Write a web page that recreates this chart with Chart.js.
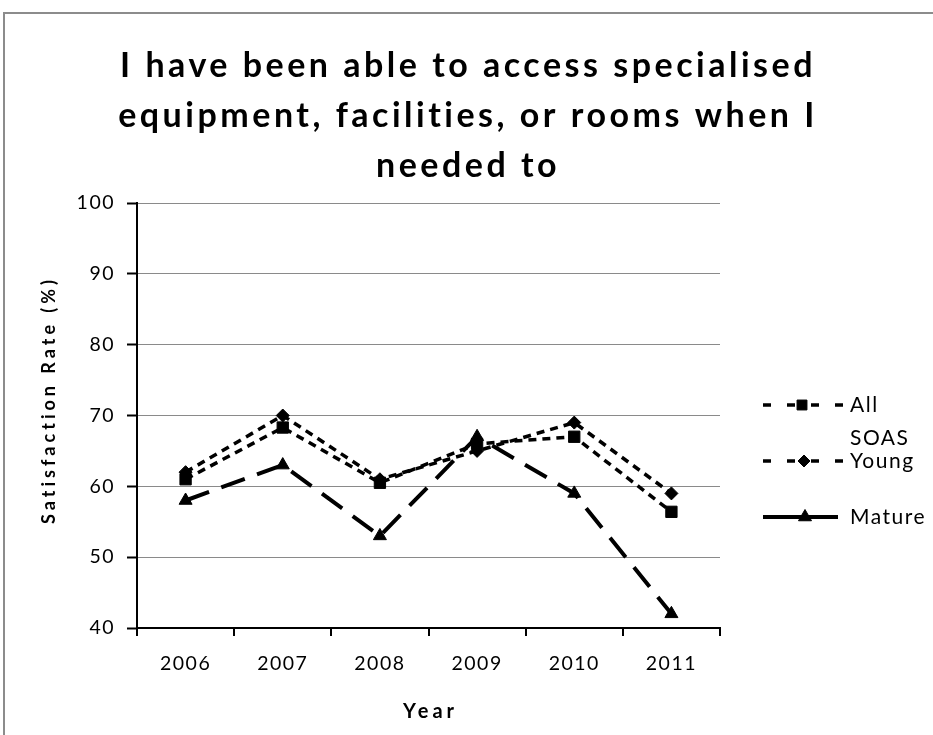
<!DOCTYPE html>
<html>
<head>
<meta charset="utf-8">
<script src="https://cdn.jsdelivr.net/npm/chart.js@4/dist/chart.umd.min.js"></script>
<style>
  html, body { margin: 0; padding: 0; background: #fff; overflow: hidden; }
  #wrap { position: absolute; left: 0; top: 0; width: 933px; height: 735px; }
  #frame { position: absolute; left: 3px; top: 12px; width: 950px; height: 760px;
           border: 2px solid #8c8c8c; box-sizing: border-box; pointer-events: none; }
</style>
</head>
<body>
<div id="wrap">
  <canvas id="c" width="933" height="735"></canvas>
  <div id="frame"></div>
</div>
<script>
// Survey years and satisfaction rates (%) per student group
const years = ['2006', '2007', '2008', '2009', '2010', '2011'];
const allStudents = [61, 68.3, 60.5, 66, 67, 56.4];
const youngStudents = [62, 70, 61, 65, 69, 59];
const matureStudents = [58, 63, 53, 67, 59, 42];
const yTicks = [40, 50, 60, 70, 80, 90, 100];

const titleLines = [
  'I have been able to access specialised',
  'equipment, facilities, or rooms when I',
  'needed to'
];
const yAxisTitle = 'Satisfaction Rate (%)';
const xAxisTitle = 'Year';
const seriesNames = [['All'], ['SOAS', 'Young'], ['Mature']];

const FONT = 'Lato, "Open Sans", sans-serif';

function spaced(ctx, px) {
  if ('letterSpacing' in ctx) ctx.letterSpacing = px + 'px';
}

// Title, axis titles and the legend on the right
const decorations = {
  id: 'decorations',
  beforeDraw(chart) {
    // slightly tracked tick labels
    spaced(chart.ctx, 1.5);
  },
  afterDraw(chart) {
    const ctx = chart.ctx;
    spaced(ctx, 0);

    // chart title
    ctx.save();
    ctx.fillStyle = '#000';
    ctx.textAlign = 'center';
    ctx.textBaseline = 'middle';
    ctx.font = 'bold 34px ' + FONT;
    spaced(ctx, 3.5);
    titleLines.forEach((t, i) => ctx.fillText(t, 468, 66 + i * 50));
    ctx.restore();

    // y-axis title
    ctx.save();
    ctx.fillStyle = '#000';
    ctx.textAlign = 'center';
    ctx.textBaseline = 'middle';
    ctx.font = 'bold 18px ' + FONT;
    spaced(ctx, 4);
    ctx.translate(49, 400);
    ctx.rotate(-Math.PI / 2);
    ctx.fillText(yAxisTitle, 0, 0);
    ctx.restore();

    // x-axis title, centred under the plot area
    const area = chart.chartArea;
    ctx.save();
    ctx.fillStyle = '#000';
    ctx.textAlign = 'center';
    ctx.textBaseline = 'middle';
    ctx.font = 'bold 20px ' + FONT;
    spaced(ctx, 4);
    ctx.fillText(xAxisTitle, (area.left + area.right) / 2 + 2, 712);
    ctx.restore();

    // legend rows
    const rows = [
      { y: 405, x0: 763, x1: 843, mx: 802, r: 7 },
      { y: 461, x0: 763, x1: 843, mx: 804, r: 6 },
      { y: 517, x0: 763, x1: 838, mx: 805, r: 7.5 }
    ];
    chart.data.datasets.forEach((ds, i) => {
      const r = rows[i];
      ctx.save();
      ctx.strokeStyle = '#000';
      ctx.lineWidth = ds.borderWidth;
      ctx.setLineDash(ds.legendDash);
      ctx.beginPath();
      ctx.moveTo(r.x0, r.y);
      ctx.lineTo(r.x1, r.y);
      ctx.stroke();
      ctx.restore();

      ctx.save();
      ctx.fillStyle = '#000';
      ctx.strokeStyle = '#000';
      Chart.helpers.drawPoint(ctx, {
        pointStyle: ds.pointStyle,
        radius: r.r,
        rotation: 0,
        borderWidth: 1
      }, r.mx, r.y);
      ctx.restore();

      ctx.save();
      ctx.fillStyle = '#000';
      ctx.font = '21px ' + FONT;
      spaced(ctx, 1.5);
      ctx.textAlign = 'left';
      ctx.textBaseline = 'middle';
      const lines = seriesNames[i];
      lines.forEach((t, k) => {
        ctx.fillText(t, 850, r.y - (lines.length - 1 - k) * 23);
      });
      ctx.restore();
    });
  }
};

new Chart(document.getElementById('c'), {
  type: 'line',
  data: {
    labels: years,
    datasets: [
      {
        label: 'All',
        data: allStudents,
        borderColor: '#000',
        backgroundColor: '#000',
        borderWidth: 3.5,
        borderDash: [8, 6],
        legendDash: [8, 16],
        pointStyle: 'rect',
        pointRadius: 8,
        pointBorderWidth: 1,
        tension: 0
      },
      {
        label: 'SOAS Young',
        data: youngStudents,
        borderColor: '#000',
        backgroundColor: '#000',
        borderWidth: 3.5,
        borderDash: [8, 6],
        legendDash: [8, 16],
        pointStyle: 'rectRot',
        pointRadius: 6.5,
        pointBorderWidth: 1,
        tension: 0
      },
      {
        label: 'Mature',
        data: matureStudents,
        borderColor: '#000',
        backgroundColor: '#000',
        borderWidth: 4,
        borderDash: [25, 13],
        legendDash: [],
        pointStyle: 'triangle',
        pointRadius: 7.5,
        pointBorderWidth: 1,
        tension: 0
      }
    ]
  },
  options: {
    responsive: false,
    animation: false,
    events: [],
    layout: { padding: { top: 203, right: 213, left: 0, bottom: 0 } },
    plugins: {
      legend: { display: false },
      tooltip: { enabled: false },
      title: { display: false }
    },
    scales: {
      x: {
        type: 'category',
        offset: true,
        afterFit(s) { s.height = 107; },
        grid: {
          offset: true,
          drawOnChartArea: false,
          drawTicks: true,
          tickLength: 8,
          color: '#000',
          lineWidth: 2
        },
        border: { color: '#000', width: 2 },
        ticks: {
          color: '#000',
          font: { family: FONT, size: 19.5 },
          padding: 16,
          maxRotation: 0
        }
      },
      y: {
        min: 40,
        max: 100,
        afterFit(s) { s.width = 137; },
        afterBuildTicks(s) { s.ticks = yTicks.map(v => ({ value: v })); },
        grid: {
          drawTicks: true,
          tickLength: 10,
          color: '#8a8a8a',
          lineWidth: 1,
          borderDash: [1, 1],
          tickColor: '#000',
          tickWidth: 2,
          tickBorderDash: []
        },
        border: { color: '#000', width: 2 },
        ticks: {
          color: '#000',
          font: { family: FONT, size: 19.5 },
          padding: 12
        }
      }
    }
  },
  plugins: [decorations]
});
</script>
</body>
</html>
